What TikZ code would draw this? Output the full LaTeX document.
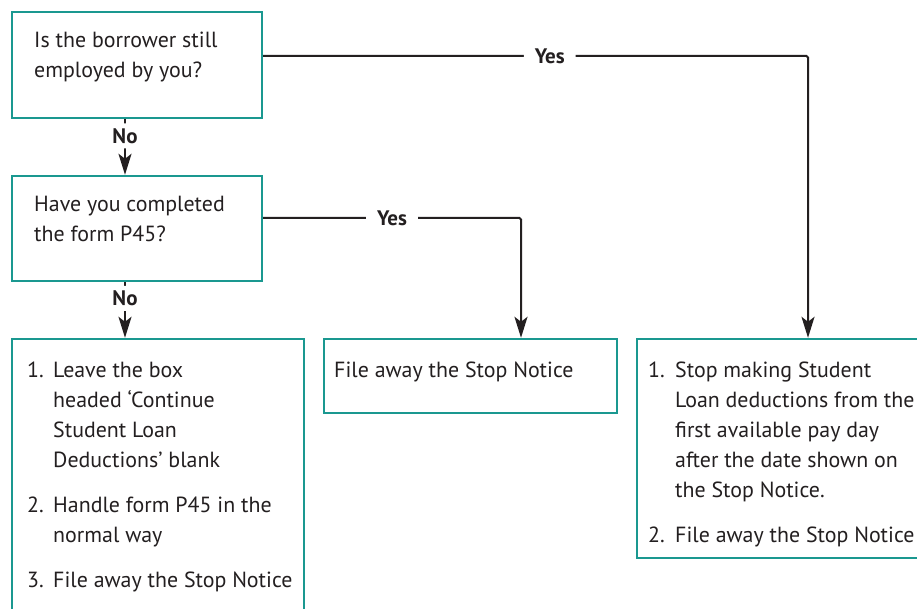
\documentclass[tikz,border=0pt]{standalone}
\usepackage{fontspec}
\setmainfont{PT Sans}
\usetikzlibrary{arrows.meta}
\definecolor{boxteal}{RGB}{26,152,144}
\definecolor{ink}{RGB}{35,31,32}
\begin{document}
\begin{tikzpicture}[x=1pt,y=-1pt,
  box/.style={draw=boxteal,line width=2.4pt,fill=white,rectangle,inner sep=0pt},
  txt/.style={text=ink,font=\fontsize{21.9}{30}\selectfont,align=left,inner sep=0pt,anchor=base west},
  flow/.style={draw=ink,line width=2pt,rounded corners=1.5pt,-{Stealth[length=21pt,width=13pt,inset=5pt]}},
  lbl/.style={text=ink,font=\fontsize{21}{24}\selectfont\bfseries,fill=white,inner xsep=11pt,inner ysep=5pt}]
\useasboundingbox (0,0) rectangle (917,609);
\clip (0,0) rectangle (917,609);
\fill[white] (0,0) rectangle (917,609);

% decision boxes
\node[box,minimum width=250pt,minimum height=106pt] (q1) at (137,65) {};
\node[box,minimum width=250pt,minimum height=105pt] (q2) at (137,228.5) {};
% outcome boxes
\node[box,minimum width=292pt,minimum height=290pt] (leave) at (158,484) {};
\node[box,minimum width=293pt,minimum height=74pt] (file) at (470.5,376) {};
\node[box,minimum width=300pt,minimum height=219pt] (stop) at (787,448.5) {};

% question texts
\node[txt] (q1t) at (34,48) {Is the borrower still};
\node[txt] (q1u) at (34,78) {employed by you?};
\node[txt] (q2t) at (34,212) {Have you completed};
\node[txt] (q2u) at (34,242) {the form P45?};

% left outcome list
\node[txt] (l1n) at (27,377) {1.};
\node[txt] (l1a) at (53,377) {Leave the box};
\node[txt] (l1b) at (53,407) {headed ‘Continue};
\node[txt] (l1c) at (53,437) {Student Loan};
\node[txt] (l1d) at (53,467) {Deductions’ blank};
\node[txt] (l2n) at (27,512) {2.};
\node[txt] (l2a) at (53,512) {Handle form P45 in the};
\node[txt] (l2b) at (53,542) {normal way};
\node[txt] (l3n) at (27,587) {3.};
\node[txt] (l3a) at (53,587) {File away the Stop Notice};

% middle outcome
\node[txt] (m1) at (334,377) {File away the Stop Notice};

% right outcome list
\node[txt] (r1n) at (648,377) {1.};
\node[txt] (r1a) at (675,377) {Stop making Student};
\node[txt] (r1b) at (675,407) {Loan deductions from the};
\node[txt] (r1c) at (675,437) {first available pay day};
\node[txt] (r1d) at (675,467) {after the date shown on};
\node[txt] (r1e) at (675,497) {the Stop Notice.};
\node[txt] (r2n) at (648,542) {2.};
\node[txt] (r2a) at (675,542) {File away the Stop Notice};

% connectors
\draw[flow] ([xshift=-12pt]q1.south) -- node[lbl,pos=0.3]{No} ([xshift=-12pt]q2.north);
\draw[flow] ([xshift=-12pt]q2.south) -- node[lbl,pos=0.29]{No} ([xshift=-12pt]q2.south |- leave.north);
\draw[flow] ([yshift=9pt]q1.east) -| node[lbl,pos=0.263]{Yes} ([xshift=21pt]stop.north);
\draw[flow] ([yshift=10.5pt]q2.east) -| node[lbl,pos=0.25]{Yes} ([xshift=50.5pt]file.north);
\end{tikzpicture}
\end{document}
